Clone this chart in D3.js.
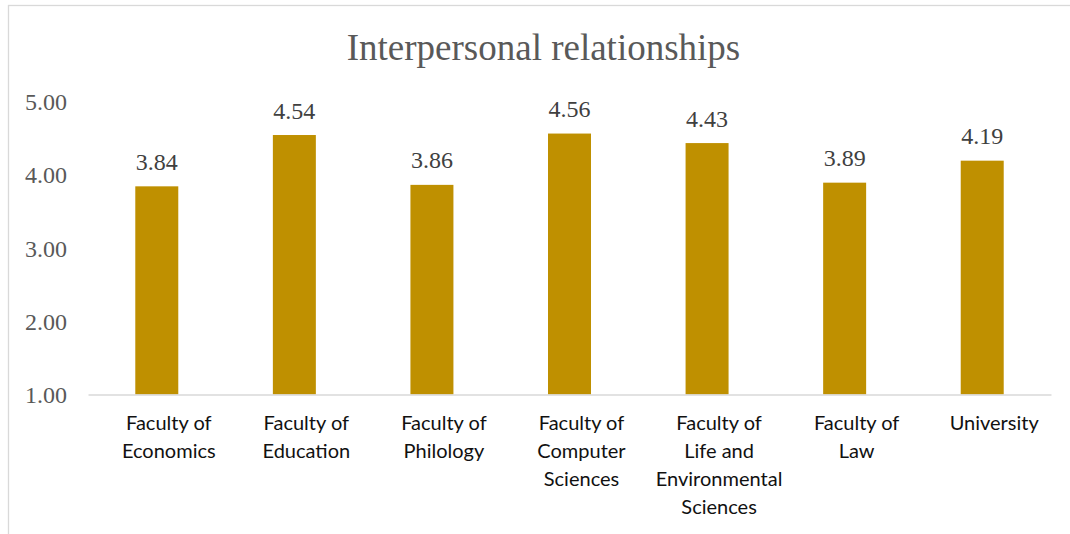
<!DOCTYPE html>
<html>
<head>
<meta charset="utf-8">
<script src="https://cdn.jsdelivr.net/npm/d3@7"></script>
<style>
  html, body { margin: 0; padding: 0; background: #fff; }
  svg { display: block; }
</style>
</head>
<body>
<svg id="chart" width="1070" height="534"></svg>
<script>
// Mean scores for interpersonal relationships, by faculty
const categories = [
  "Faculty of Economics",
  "Faculty of Education",
  "Faculty of Philology",
  "Faculty of Computer Sciences",
  "Faculty of Life and Environmental Sciences",
  "Faculty of Law",
  "University"
];
const categoryLines = [
  ["Faculty of", "Economics"],
  ["Faculty of", "Education"],
  ["Faculty of", "Philology"],
  ["Faculty of", "Computer", "Sciences"],
  ["Faculty of", "Life and", "Environmental", "Sciences"],
  ["Faculty of", "Law"],
  ["University"]
];
const scores = [3.84, 4.54, 3.86, 4.56, 4.43, 3.89, 4.19];
const yTicks = [1, 2, 3, 4, 5];
const chartTitle = "Interpersonal relationships";

const svg = d3.select("#chart");
const W = 1070, H = 534;
const plot = { left: 88, right: 1051, top: 101.3, bottom: 394.5 };

// Chart area outline
svg.append("rect")
  .attr("x", 8.5).attr("y", 5.5)
  .attr("width", W + 20).attr("height", H + 20)
  .attr("fill", "#fff")
  .attr("stroke", "#d9d9d9").attr("stroke-width", 1.3);

const x = d3.scaleBand()
  .domain(categories)
  .range([plot.left, plot.right])
  .paddingInner(0.6875)
  .paddingOuter(0.34375);

const y = d3.scaleLinear()
  .domain([1, 5])
  .range([plot.bottom, plot.top]);

// Title
svg.append("text")
  .attr("x", 543.5).attr("y", 59.5)
  .attr("text-anchor", "middle")
  .attr("font-family", "'Liberation Serif', 'Times New Roman', serif")
  .attr("font-size", 37)
  .attr("fill", "#595959")
  .text(chartTitle);

// Value axis labels
const yAxis = d3.axisLeft(y)
  .tickValues(yTicks)
  .tickFormat(d3.format(".2f"))
  .tickSize(0)
  .tickPadding(0);
const yg = svg.append("g")
  .attr("transform", "translate(67,0)")
  .call(yAxis);
yg.select(".domain").remove();
yg.selectAll("text")
  .attr("font-family", "'Liberation Serif', 'Times New Roman', serif")
  .attr("font-size", 24)
  .attr("fill", "#595959")
  .attr("dy", "0.34em");

// Bars
svg.append("g")
  .selectAll("rect")
  .data(scores)
  .join("rect")
  .attr("x", (d, i) => x(categories[i]))
  .attr("y", d => y(d))
  .attr("width", x.bandwidth())
  .attr("height", d => y(1) - y(d))
  .attr("fill", "#bf9000");

// Value labels above bars
svg.append("g")
  .selectAll("text")
  .data(scores)
  .join("text")
  .attr("x", (d, i) => x(categories[i]) + x.bandwidth() / 2)
  .attr("y", d => y(d) - 16.5)
  .attr("text-anchor", "middle")
  .attr("font-family", "'Liberation Serif', 'Times New Roman', serif")
  .attr("font-size", 24)
  .attr("fill", "#404040")
  .text(d => d3.format(".2f")(d));

// Category axis line
const xAxis = d3.axisBottom(x).tickSize(0).tickFormat("");
const xg = svg.append("g")
  .attr("transform", `translate(0,${y(1)})`)
  .call(xAxis);
xg.select(".domain")
  .attr("stroke", "#d9d9d9")
  .attr("stroke-width", 1.5);

// Wrapped category labels
const labelG = svg.append("g")
  .attr("font-family", "Lato, 'Open Sans', sans-serif")
  .attr("font-size", 20)
  .attr("fill", "#111");
categoryLines.forEach((lines, i) => {
  const cx = x(categories[i]) + x.bandwidth() / 2 + 12;
  const t = labelG.append("text")
    .attr("text-anchor", "middle")
    .attr("x", cx)
    .attr("y", y(1) + 35.5);
  lines.forEach((ln, j) => {
    t.append("tspan")
      .attr("x", cx)
      .attr("dy", j === 0 ? 0 : 28)
      .text(ln);
  });
});
</script>
</body>
</html>
